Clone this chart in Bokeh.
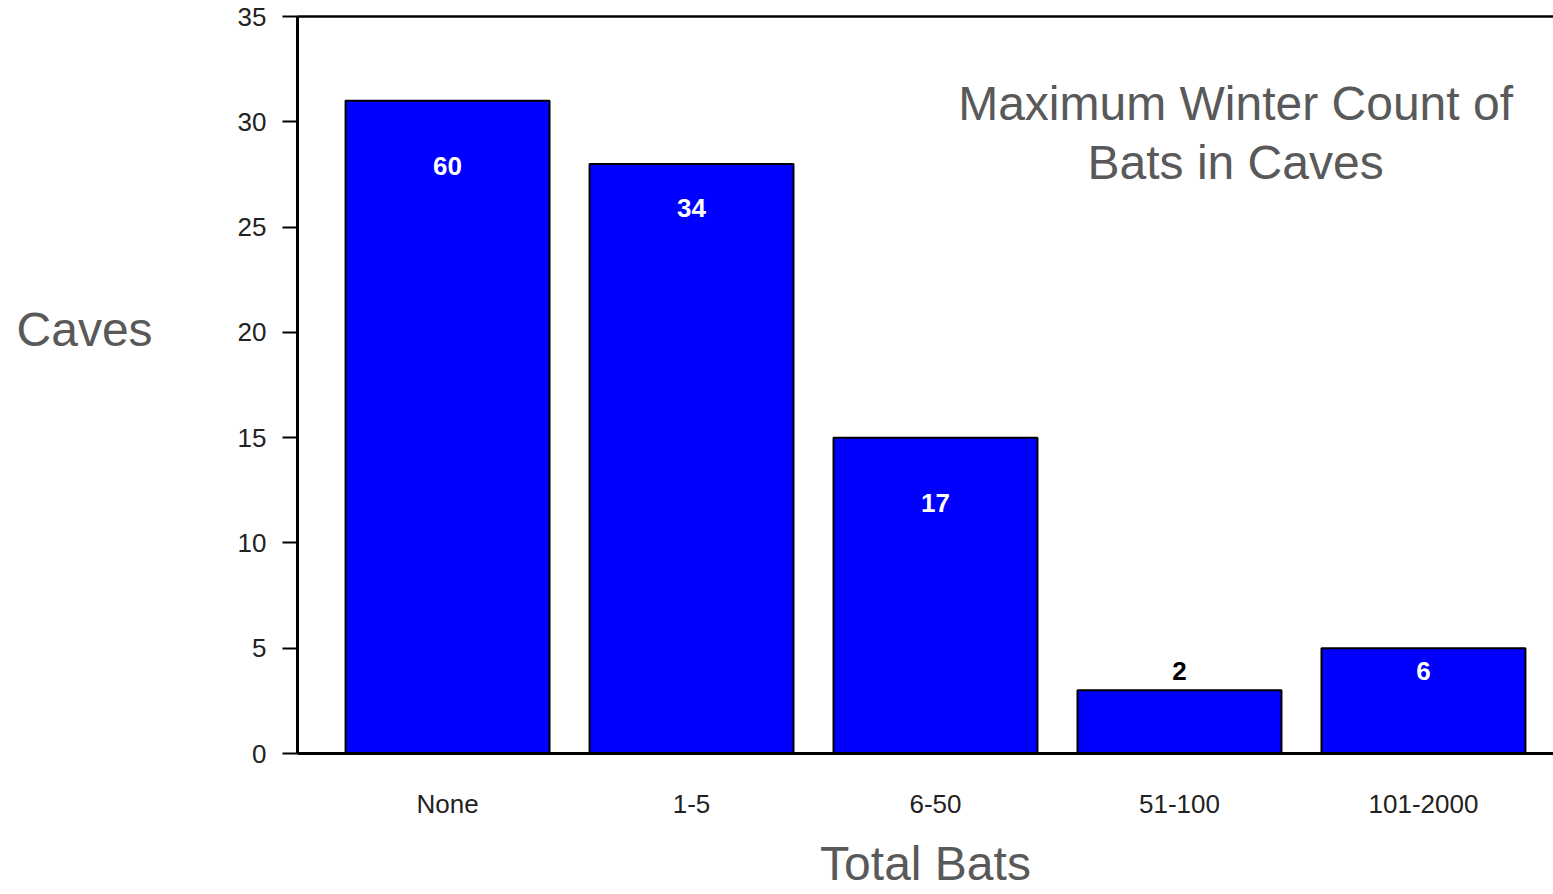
from bokeh.plotting import figure
from bokeh.models import Range1d, FixedTicker, Label, LinearAxis, ColumnDataSource
from bokeh.embed import file_html
from bokeh.resources import INLINE
from bokeh.core.properties import value

categories = ["None", "1-5", "6-50", "51-100", "101-2000"]
caves = [31, 28, 15, 3, 5]
bat_totals = ["60", "34", "17", "2", "6"]
label_pos = [27.9, 25.9, 11.9, 3.9, 3.9]
label_colors = ["white", "white", "white", "black", "white"]
y_ticks = [0, 5, 10, 15, 20, 25, 30, 35]

FONT = "Liberation Sans"
idx = list(range(len(categories)))

p = figure(width=1553, height=894, output_backend="svg", toolbar_location=None,
           x_range=Range1d(-0.615, 4.533), y_range=Range1d(0, 35),
           min_border_left=297, min_border_right=0, min_border_top=16, min_border_bottom=141,
           x_axis_location=None, y_axis_location=None)
p.outline_line_color = None
p.grid.visible = False
p.background_fill_color = "white"
p.border_fill_color = "white"

src = ColumnDataSource(dict(x=idx, top=caves, lab=bat_totals, ly=label_pos, lc=label_colors))
p.vbar(x="x", top="top", width=0.836, bottom=0, source=src,
       fill_color="#0000FF", line_color="black", line_width=2)
p.text(x="x", y="ly", text="lab", source=src, text_color="lc",
       text_font=value(FONT), text_font_style="bold", text_font_size="26px",
       text_align="center", text_baseline="middle")

# left axis
ya = LinearAxis(ticker=FixedTicker(ticks=y_ticks))
ya.axis_line_width = 3
ya.axis_line_color = "black"
ya.major_tick_line_width = 2
ya.major_tick_line_color = "black"
ya.major_tick_out = 15
ya.major_tick_in = 0
ya.minor_tick_line_color = None
ya.major_label_standoff = 16
ya.major_label_text_font = FONT
ya.major_label_text_font_size = "26px"
ya.major_label_text_color = "#222222"
ya.axis_label = "Caves\n\n"
ya.axis_label_orientation = "horizontal"
ya.axis_label_text_font = FONT
ya.axis_label_text_font_size = "48px"
ya.axis_label_text_font_style = "normal"
ya.axis_label_text_color = "#595959"
ya.axis_label_text_line_height = 1.04
ya.axis_label_standoff = 82
p.add_layout(ya, "left")

# bottom axis
xa = LinearAxis(ticker=FixedTicker(ticks=idx),
                major_label_overrides={i: c for i, c in zip(idx, categories)})
xa.axis_line_width = 3
xa.axis_line_color = "black"
xa.major_tick_line_color = None
xa.major_tick_out = 0
xa.major_tick_in = 0
xa.minor_tick_line_color = None
xa.major_label_standoff = 35
xa.major_label_text_font = FONT
xa.major_label_text_font_size = "26px"
xa.major_label_text_color = "#222222"
xa.axis_label = "Total Bats"
xa.axis_label_text_font = FONT
xa.axis_label_text_font_size = "48px"
xa.axis_label_text_font_style = "normal"
xa.axis_label_text_color = "#595959"
xa.axis_label_text_baseline = "middle"
xa.axis_label_standoff = 15
p.add_layout(xa, "below")

# top line
ta = LinearAxis(ticker=FixedTicker(ticks=[]))
ta.axis_line_width = 2.5
ta.axis_line_color = "black"
ta.major_tick_line_color = None
ta.minor_tick_line_color = None
ta.major_label_text_font_size = "0px"
p.add_layout(ta, "above")

p.add_layout(Label(x=3.23, y=32.15, text="Maximum Winter Count of\nBats in Caves",
                   text_font=FONT, text_font_size="48px", text_color="#595959",
                   text_align="center", text_baseline="top", text_line_height=1.12))

open("out.html", "w").write(file_html(p, INLINE))
